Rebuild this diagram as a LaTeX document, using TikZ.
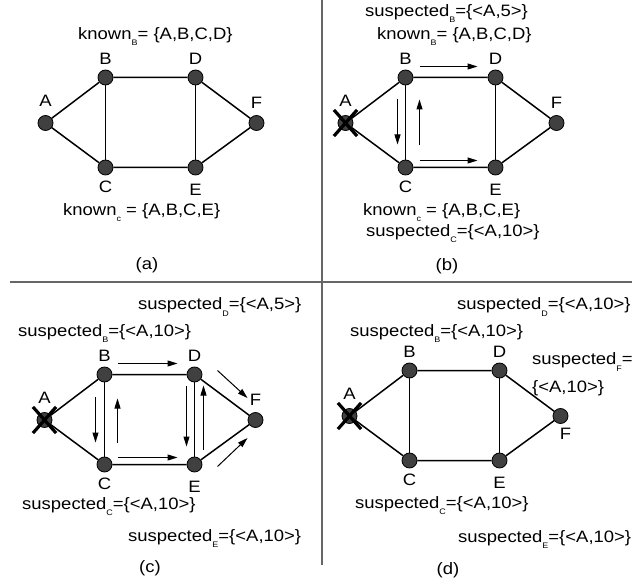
\documentclass[tikz,border=0pt]{standalone}
\usepackage{fontspec}
\setmainfont[FakeStretch=1.12]{Liberation Sans}
\usepackage{tikz}
\usetikzlibrary{arrows.meta,positioning,shapes.misc}
\definecolor{hostfill}{HTML}{404040}
\definecolor{rulegray}{HTML}{666666}
\newcommand{\lowsub}[1]{\raisebox{-6pt}{\fontsize{8}{8}\selectfont #1}}

\begin{document}
\begin{tikzpicture}[
    x=1pt, y=-1pt,
    font=\fontsize{16.5}{19}\selectfont,
    host/.style={circle, draw=black, fill=hostfill, line width=0.8pt, minimum size=15pt, inner sep=0pt},
    link/.style={line width=1.5pt},
    msg/.style={-{Triangle[length=10pt,width=6pt]}, line width=1pt},
    crash/.style={cross out, draw=black, line width=3.2pt, minimum width=20pt, minimum height=23pt, inner sep=0pt},
    lab/.style={inner sep=0pt, anchor=base west},
    sep/.style={draw=rulegray, line width=1.5pt}
]
\useasboundingbox (0,0) rectangle (632,585);

% panel rules
\draw[sep] (10,282) -- (632,282);
\draw[sep] (322,0) -- (322,565);

% the network, once per panel
\foreach \p/\bx/\by in {a/105.5/77.5, b/405.5/77.5, c/104.5/374.5, d/409.5/370.5} {
  \node[host] (\p-B) at (\bx,\by) {};
  \node[host] (\p-A) at (\bx-60,\by+45.5) {};
  \node[host] (\p-C) at (\bx,\by+90) {};
  \node[host] (\p-D) at (\bx+90,\by) {};
  \node[host] (\p-E) at (\bx+90,\by+90) {};
  \node[host] (\p-F) at (\bx+151,\by+45.5) {};
  \draw[link] (\p-A) -- (\p-B) -- (\p-D) -- (\p-F) -- (\p-E) -- (\p-C) -- (\p-A);
  \draw[link] (\p-B) -- (\p-C) (\p-D) -- (\p-E);
  \node[inner sep=0pt, above=8.5pt of \p-A] (\p-Alab) {A};
  \node[inner sep=0pt, above=4.5pt of \p-B] (\p-Blab) {B};
  \node[inner sep=0pt, above=4.5pt of \p-D] (\p-Dlab) {D};
  \node[inner sep=0pt, below=5.5pt of \p-C] (\p-Clab) {C};
  \node[inner sep=0pt, below=9pt of \p-E] (\p-Elab) {E};
}
\node[inner sep=0pt, above=6pt of a-F] (a-Flab) {F};
\node[inner sep=0pt, above=6pt of b-F] (b-Flab) {F};
\node[inner sep=0pt, above=6pt of c-F] (c-Flab) {F};
\node[inner sep=0pt, below=4.5pt of d-F, xshift=5pt] (d-Flab) {F};

% A has failed
\node[crash] (b-X) at (b-A) {};
\node[crash] (c-X) at (c-A) {};
\node[crash] (d-X) at (d-A) {};

% (a)
\node[lab] (a-knownB) at (78,40) {known\lowsub{B}= \{A,B,C,D\}};
\node[lab] (a-knownC) at (63,216) {known\lowsub{c} = \{A,B,C,E\}};
\node (a-cap) at (147,265) {(a)};

% (b)
\node[lab] (b-suspB) at (365,17) {suspected\lowsub{B}=\{<A,5>\}};
\node[lab] (b-knownB) at (377,40) {known\lowsub{B}= \{A,B,C,D\}};
\node[lab] (b-knownC) at (363,216) {known\lowsub{c} = \{A,B,C,E\}};
\node[lab] (b-suspC) at (366,237) {suspected\lowsub{C}=\{<A,10>\}};
\node (b-cap) at (447,266) {(b)};
\draw[msg] ([shift={(14,-11)}]b-B.center) -- ([shift={(-18,-11)}]b-D.center);
\draw[msg] ([shift={(-8,22)}]b-B.center) -- ([shift={(-8,-23)}]b-C.center);
\draw[msg] ([shift={(14,-22)}]b-C.center) -- ([shift={(14,22)}]b-B.center);
\draw[msg] ([shift={(14,-7)}]b-C.center) -- ([shift={(-18,-7)}]b-E.center);

% (c)
\node[lab] (c-suspD) at (138,310) {suspected\lowsub{D}=\{<A,5>\}};
\node[lab] (c-suspB) at (18,337) {suspected\lowsub{B}=\{<A,10>\}};
\node[lab] (c-suspC) at (22,509) {suspected\lowsub{C}=\{<A,10>\}};
\node[lab] (c-suspE) at (128,541) {suspected\lowsub{E}=\{<A,10>\}};
\node (c-cap) at (150,568) {(c)};
\draw[msg] ([shift={(13,-11)}]c-B.center) -- ([shift={(-17,-11)}]c-D.center);
\draw[msg] ([shift={(13,-7)}]c-C.center) -- ([shift={(-17,-7)}]c-E.center);
\draw[msg] ([shift={(-9,22)}]c-B.center) -- ([shift={(-9,-22)}]c-C.center);
\draw[msg] ([shift={(13,-22)}]c-C.center) -- ([shift={(13,24)}]c-B.center);
\draw[msg] ([shift={(-8,11)}]c-D.center) -- ([shift={(-8,-18)}]c-E.center);
\draw[msg] ([shift={(9,-15)}]c-E.center) -- ([shift={(9,11)}]c-D.center);
\draw[msg] ([shift={(23,-4)}]c-D.center) -- ([shift={(-8,-22)}]c-F.center);
\draw[msg] ([shift={(23,2)}]c-E.center) -- ([shift={(-8,18)}]c-F.center);

% (d)
\node[lab] (d-suspD) at (457,310) {suspected\lowsub{D}=\{<A,10>\}};
\node[lab] (d-suspB) at (350,337) {suspected\lowsub{B}=\{<A,10>\}};
\node[lab] (d-suspF) at (532,365) {suspected\lowsub{F}=};
\node[lab] (d-suspF2) at (532,392) {\{<A,10>\}};
\node[lab] (d-suspC) at (355,508) {suspected\lowsub{C}=\{<A,10>\}};
\node[lab] (d-suspE) at (458,542) {suspected\lowsub{E}=\{<A,10>\}};
\node (d-cap) at (448,570) {(d)};
\end{tikzpicture}
\end{document}
